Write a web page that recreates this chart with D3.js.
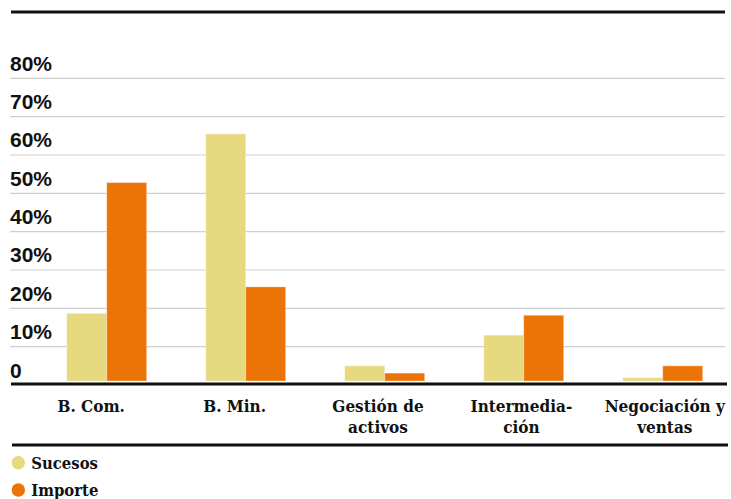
<!DOCTYPE html>
<html>
<head>
<meta charset="utf-8">
<script src="https://cdn.jsdelivr.net/npm/d3@7"></script>
<style>
  body { margin: 0; background: #fff; }
  .cat, .legend { font-family: "DejaVu Serif Condensed", "DejaVu Serif", serif; font-stretch: condensed; font-weight: bold; font-size: 17px; fill: #111; }
  .legend { font-size: 16.5px; }
  .ylab { font-family: "Liberation Sans", Arial, sans-serif; font-weight: bold; font-size: 21px; fill: #111; }
</style>
</head>
<body>
<div class="chart"></div>
<script>
'use strict';

// data
const categories = ["B. Com.", "B. Min.", "Gestión de activos", "Intermediación", "Negociación y ventas"];
const categoryLines = [["B. Com."], ["B. Min."], ["Gestión de", "activos"], ["Intermedia-", "ción"], ["Negociación y", "ventas"]];
const seriesNames = ["Sucesos", "Importe"];
const sucesos = [18.7, 65.5, 5.0, 13.0, 1.9];
const importe = [52.8, 25.6, 3.1, 18.2, 5.0];
const yTicks = [0, 10, 20, 30, 40, 50, 60, 70, 80];
const colors = ["#e6d980", "#ec7406"];

(function() {
    let svg = d3.select('.chart').append('svg')
        .attr('width', 731).attr('height', 499);

    let rows = categories.map((c, i) => ({ cat: c, values: [sucesos[i], importe[i]] }));

    let yScale = d3.scaleLinear().domain([0, 80]).range([385, 78.3]);

    let xScale = d3.scaleBand().domain(categories)
        .range([37.2, 732.2]).paddingInner(0.4245).paddingOuter(0.21225);
    let xSub = d3.scaleBand().domain(seriesNames).range([0, xScale.bandwidth()]);

    let labelScale = d3.scaleBand().domain(categories).range([19.5, 736.5]);

    // top rule
    svg.append('line')
        .attr('x1', 11).attr('x2', 725).attr('y1', 12).attr('y2', 12)
        .attr('stroke', '#111').attr('stroke-width', 3);

    // grid lines
    svg.append('g').selectAll('line')
        .data(yTicks.filter((d) => d > 0))
        .enter().append('line')
        .attr('x1', 10).attr('x2', 725)
        .attr('y1', (d) => yScale(d)).attr('y2', (d) => yScale(d))
        .attr('stroke', '#cfcfcf').attr('stroke-width', 1.2);

    // y labels
    svg.append('g').selectAll('text')
        .data(yTicks)
        .enter().append('text')
        .attr('class', 'ylab')
        .attr('x', 10)
        .attr('y', (d) => yScale(d) - 7.5)
        .text((d) => d == 0 ? "0" : d + "%");

    // bars
    let groups = svg.append('g').selectAll('g')
        .data(rows)
        .enter().append('g')
        .attr('transform', (d) => 'translate(' + xScale(d.cat) + ',0)');

    groups.selectAll('rect')
        .data((d) => d.values.map((v, i) => ({ key: seriesNames[i], value: v, i: i })))
        .enter().append('rect')
        .attr('x', (d) => xSub(d.key))
        .attr('width', xSub.bandwidth())
        .attr('y', (d) => yScale(d.value))
        .attr('height', (d) => yScale(0) - 4 - yScale(d.value))
        .attr('fill', (d) => colors[d.i])
        .attr('stroke', '#fff').attr('stroke-opacity', 0.35).attr('stroke-width', 1);

    // baseline
    svg.append('line')
        .attr('x1', 11).attr('x2', 727).attr('y1', 384).attr('y2', 384)
        .attr('stroke', '#111').attr('stroke-width', 3);

    // category labels
    let labels = svg.append('g').selectAll('text')
        .data(categories)
        .enter().append('text')
        .attr('class', 'cat')
        .attr('text-anchor', 'middle')
        .attr('x', (d) => labelScale(d) + labelScale.bandwidth() / 2)
        .attr('y', 412);

    labels.selectAll('tspan')
        .data((d, i) => categoryLines[i])
        .enter().append('tspan')
        .attr('x', function() { return d3.select(this.parentNode).attr('x'); })
        .attr('dy', (d, i) => i == 0 ? 0 : 21)
        .text((d) => d);

    // bottom rule
    svg.append('line')
        .attr('x1', 12).attr('x2', 728).attr('y1', 445).attr('y2', 445)
        .attr('stroke', '#111').attr('stroke-width', 3);

    // legend
    let legend = svg.append('g').selectAll('g')
        .data(seriesNames)
        .enter().append('g')
        .attr('transform', (d, i) => 'translate(18.3,' + (462.7 + i * 27.3) + ')');

    legend.append('circle')
        .attr('r', 6.7)
        .attr('fill', (d, i) => colors[i]);

    legend.append('text')
        .attr('class', 'legend')
        .attr('x', 13)
        .attr('y', 6)
        .text((d) => d);
})();
</script>
</body>
</html>
